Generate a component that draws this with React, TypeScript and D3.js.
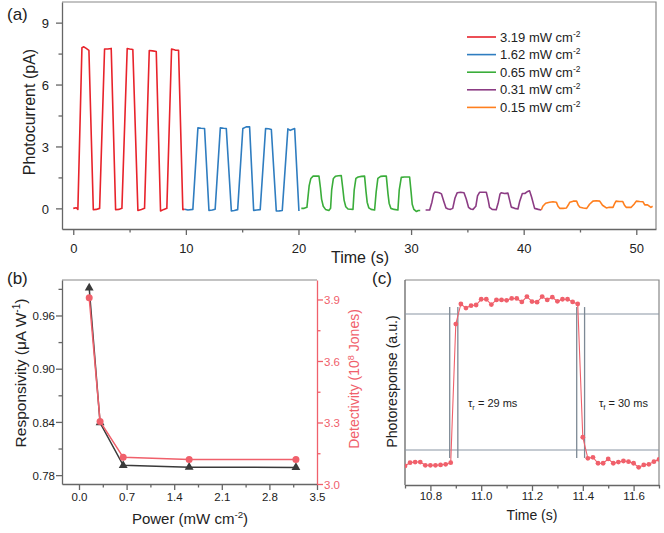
import React, { useEffect, useRef } from 'react';
import * as d3 from 'd3';

const FONT = '"Liberation Sans", Arial, Helvetica, sans-serif';

// (a) photocurrent (pA) vs time (s), one list per light intensity
const curve319: [number, number][] = [
  [0, 0], [0.27, 0.03], [0.41, -0.05], [0.77, 7.78], [0.94, 7.83], [1.15, 7.75], [1.39, 7.66],
  [1.78, -0.07], [2.04, -0.05], [2.34, 0.0], [2.78, 7.72], [3.07, 7.72], [3.37, 7.75],
  [3.76, -0.07], [4.04, -0.05], [4.32, 0.0], [4.79, 7.75], [5.0, 7.72], [5.29, 7.7],
  [5.74, -0.1], [6.05, -0.05], [6.33, 0.0], [6.75, 7.65], [7.05, 7.63], [7.37, 7.6],
  [7.75, -0.13], [8.05, -0.05], [8.31, 0.0], [8.73, 7.72], [9.05, 7.67], [9.35, 7.66],
  [9.73, -0.06], [9.9, -0.04],
];
const curve162: [number, number][] = [
  [9.9, -0.04], [10.18, -0.08], [10.62, -0.05], [11.07, 3.9], [11.35, 3.88], [11.66, 3.87],
  [12.05, -0.1], [12.35, -0.08], [12.6, -0.04], [13.06, 3.9], [13.35, 3.88], [13.59, 3.87],
  [14.04, -0.13], [14.3, -0.1], [14.6, -0.06], [15.06, 3.87], [15.36, 3.95], [15.66, 3.95],
  [16.02, -0.1], [16.3, -0.08], [16.6, -0.06], [17.08, 3.87], [17.35, 3.86], [17.59, 3.82],
  [18.03, -0.13], [18.3, -0.12], [18.56, -0.1], [19.06, 3.85], [19.27, 3.78], [19.66, 3.87],
  [20.04, -0.13],
];
const curve065: [number, number][] = [
  [20.25, 0.0], [20.5, 0.0], [20.75, 0.05], [20.95, 1.1], [21.1, 1.45], [21.3, 1.56], [21.55, 1.56],
  [21.82, 1.56], [21.95, 1.0], [22.05, 0.45], [22.2, 0.1], [22.4, -0.05], [22.7, -0.1], [22.85, 0.0],
  [22.95, 0.9], [23.1, 1.45], [23.3, 1.56], [23.55, 1.58], [23.8, 1.59], [23.95, 0.9], [24.05, 0.4],
  [24.2, 0.08], [24.4, -0.03], [24.84, -0.05], [24.95, 0.9], [25.1, 1.45], [25.3, 1.52], [25.6, 1.55],
  [25.87, 1.56], [26.0, 0.8], [26.1, 0.3], [26.25, 0.02], [26.45, -0.05], [26.76, -0.08], [26.9, 0.8],
  [27.05, 1.45], [27.3, 1.55], [27.55, 1.56], [27.8, 1.56], [27.95, 0.7], [28.05, 0.25], [28.2, 0.0],
  [28.5, -0.05], [28.83, -0.08], [28.95, 0.9], [29.13, 1.5], [29.4, 1.52], [29.6, 1.52], [29.87, 1.52],
  [30.0, 0.8], [30.1, 0.2], [30.25, -0.05], [30.46, -0.15], [30.65, -0.1], [30.81, -0.1],
];
const curve031: [number, number][] = [
  [31.29, -0.08], [31.65, -0.08], [31.85, 0.3], [32.0, 0.7], [32.1, 0.79], [32.3, 0.78], [32.5, 0.76],
  [32.7, 0.7], [32.9, 0.35], [33.1, 0.02], [33.3, -0.03], [33.5, -0.05], [33.7, 0.0], [33.9, 0.5],
  [34.1, 0.76], [34.4, 0.78], [34.7, 0.76], [34.9, 0.45], [35.1, 0.05], [35.3, -0.03], [35.5, -0.05],
  [35.75, 0.1], [35.9, 0.6], [36.08, 0.78], [36.4, 0.78], [36.68, 0.78], [36.85, 0.4], [36.97, 0.05],
  [37.2, -0.05], [37.56, -0.07], [37.75, 0.3], [37.9, 0.7], [38.0, 0.76], [38.3, 0.72], [38.6, 0.74],
  [38.75, 0.4], [38.9, 0.06], [39.2, 0.0], [39.49, -0.03], [39.65, 0.35], [39.88, 0.72], [40.1, 0.72],
  [40.3, 0.8], [40.52, 0.85], [40.7, 0.55], [40.97, 0.0], [41.3, -0.05], [41.56, -0.08],
];
const curve015: [number, number][] = [
  [41.56, -0.08], [41.7, 0.1], [41.95, 0.25], [42.3, 0.3], [42.6, 0.32], [42.9, 0.3], [43.05, 0.1],
  [43.2, 0.0], [43.5, 0.0], [43.8, 0.02], [44.0, 0.2], [44.1, 0.3], [44.4, 0.35], [44.7, 0.35],
  [44.85, 0.15], [45.0, 0.05], [45.3, 0.02], [45.6, 0.0], [45.85, 0.2], [46.15, 0.35], [46.45, 0.37],
  [46.75, 0.35], [47.0, 0.15], [47.34, 0.02], [47.6, 0.05], [47.93, 0.05], [48.05, 0.2], [48.2, 0.35],
  [48.5, 0.33], [48.8, 0.33], [48.95, 0.15], [49.1, 0.05], [49.3, 0.05], [49.55, 0.05], [49.8, 0.2],
  [50.0, 0.35], [50.3, 0.33], [50.6, 0.32], [50.75, 0.17], [51.0, 0.17], [51.3, 0.05], [51.45, 0.1],
];
const intensities = ['3.19', '1.62', '0.65', '0.31', '0.15'];
const curveColors = ['#e8232b', '#2f7dc0', '#3aad3a', '#8c3c84', '#ff7f1e'];

// (b) responsivity / detectivity vs power
const powers = [0.15, 0.31, 0.65, 1.62, 3.19];
const responsivity = [0.991, 0.839, 0.791, 0.789, 0.7887];
const detectivity = [3.908, 3.305, 3.13, 3.12, 3.12];

// (c) single on/off cycle, normalised
const responseC: [number, number][] = [
  [10.70, 0.093], [10.72, 0.109], [10.74, 0.112], [10.76, 0.112], [10.78, 0.096], [10.80, 0.096],
  [10.82, 0.096], [10.84, 0.098], [10.86, 0.101], [10.88, 0.109], [10.90, 0.785], [10.92, 0.883],
  [10.94, 0.863], [10.96, 0.875], [10.98, 0.878], [11.00, 0.906], [11.02, 0.906], [11.04, 0.880],
  [11.06, 0.903], [11.08, 0.903], [11.10, 0.901], [11.12, 0.910], [11.14, 0.910], [11.16, 0.893],
  [11.18, 0.919], [11.20, 0.895], [11.22, 0.892], [11.24, 0.919], [11.26, 0.903], [11.28, 0.916],
  [11.30, 0.896], [11.32, 0.906], [11.34, 0.906], [11.36, 0.893], [11.38, 0.883], [11.40, 0.233],
  [11.42, 0.130], [11.44, 0.135], [11.46, 0.106], [11.48, 0.106], [11.50, 0.127], [11.52, 0.106],
  [11.54, 0.112], [11.56, 0.117], [11.58, 0.114], [11.60, 0.106], [11.62, 0.086], [11.64, 0.098],
  [11.66, 0.101], [11.68, 0.114], [11.70, 0.125],
];
const edgeTimes = [10.876, 10.908, 11.376, 11.407];
const levelLines = [0.171, 0.834];

const ticksAx = [0, 10, 20, 30, 40, 50];
const minorAx = [5, 15, 25, 35, 45];
const ticksAy = [0, 3, 6, 9];
const minorAy = [1.5, 4.5, 7.5];
const ticksBx = [0, 0.7, 1.4, 2.1, 2.8, 3.5];
const minorBx = [0.35, 1.05, 1.75, 2.45, 3.15];
const ticksBy = [0.78, 0.84, 0.9, 0.96];
const minorBy = [0.81, 0.87, 0.93, 0.99];
const ticksBy2 = [3.0, 3.3, 3.6, 3.9];
const minorBy2 = [3.15, 3.45, 3.75];
const ticksCx = [10.8, 11.0, 11.2, 11.4, 11.6];
const minorCx = [10.7, 10.9, 11.1, 11.3, 11.5, 11.7];

const AXIS = '#666';
const PINK = '#f0606b';

function axis(svg: any, kind: string, scale: any, major: number[], minor: number[], at: number,
  fmt: (d: any) => string, color: string, textColor: string, off: number, fs: number) {
  const make = kind === 'bottom' ? d3.axisBottom : kind === 'left' ? d3.axisLeft : d3.axisRight;
  const tr = kind === 'bottom' ? `translate(0,${at})` : `translate(${at},0)`;
  const g = svg.append('g').attr('transform', tr)
    .call(make(scale).tickValues(major).tickFormat(fmt).tickSize(6).tickSizeOuter(0));
  g.select('.domain').attr('stroke', color).attr('stroke-width', 1.3);
  g.selectAll('.tick line').attr('stroke', color).attr('stroke-width', 1.3);
  const t = g.selectAll('.tick text').attr('fill', textColor).attr('font-size', fs).attr('font-family', FONT);
  if (kind === 'bottom') t.attr('y', off).attr('dy', 0);
  else t.attr('x', kind === 'left' ? -off : off).attr('dy', '0.36em');
  const m = svg.append('g').attr('transform', tr)
    .call(make(scale).tickValues(minor).tickFormat(() => '').tickSize(3.5));
  m.select('.domain').remove();
  m.selectAll('.tick line').attr('stroke', color).attr('stroke-width', 1.3);
}

function label(svg: any, x: number, y: number, parts: [string, boolean][], fs: number, rotate = false, color = '#222', anchor = 'middle') {
  const t = svg.append('text')
    .attr('transform', rotate ? `translate(${x},${y}) rotate(-90)` : `translate(${x},${y})`)
    .attr('text-anchor', anchor).attr('font-size', fs).attr('fill', color).attr('font-family', FONT);
  let sup = false;
  parts.forEach(([s, isSup]) => {
    const sp = t.append('tspan').text(s);
    if (isSup && !sup) sp.attr('dy', -fs * 0.38).attr('font-size', fs * 0.65);
    else if (!isSup && sup) sp.attr('dy', fs * 0.38);
    else if (isSup) sp.attr('font-size', fs * 0.65);
    sup = isSup;
  });
  return t;
}

const App: React.FC = () => {
  const svgRef = useRef<SVGSVGElement>(null);

  useEffect(() => {
    if (!svgRef.current) return;
    const svg = d3.select(svgRef.current);
    svg.selectAll('*').remove();
    svg.attr('width', 664).attr('height', 533);
    svg.append('rect').attr('width', 664).attr('height', 533).attr('fill', '#fff');

    const fmt1 = (d: any) => d3.format('.1f')(d);

    // ---------- (a)
    const xa = d3.scaleLinear().domain([-1, 51.75]).range([62, 656]);
    const ya = d3.scaleLinear().domain([-1, 10]).range([229, 2]);
    svg.append('path').attr('d', 'M62,2H656V229').attr('fill', 'none').attr('stroke', '#888').attr('stroke-width', 1.2);
    axis(svg, 'bottom', xa, ticksAx, minorAx, 229, (d) => String(d), AXIS, '#222', 24, 13);
    axis(svg, 'left', ya, ticksAy, minorAy, 62, (d) => String(d), AXIS, '#222', 13, 13);

    const lineA = d3.line<[number, number]>().x((d) => xa(d[0])).y((d) => ya(d[1]));
    [curve319, curve162, curve065, curve031, curve015].forEach((c, i) => {
      svg.append('path').attr('d', lineA(c)).attr('fill', 'none')
        .attr('stroke', curveColors[i]).attr('stroke-width', 1.6).attr('stroke-linejoin', 'round');
    });

    intensities.forEach((s, i) => {
      const y = 37 + i * 17.6;
      svg.append('line').attr('x1', 467).attr('x2', 496).attr('y1', y).attr('y2', y)
        .attr('stroke', curveColors[i]).attr('stroke-width', 1.6);
      label(svg, 500, y + 4.5, [[`${s} mW cm`, false], ['-2', true]], 13, false, '#222', 'start');
    });

    label(svg, 34.5, 112, [['Photocurrent (pA)', false]], 16, true);
    label(svg, 360, 263, [['Time (s)', false]], 16);
    label(svg, 7, 20, [['(a)', false]], 17, false, '#222', 'start');

    // ---------- (b)
    const xb = d3.scaleLinear().domain([-0.25, 3.5]).range([62, 317]);
    const yb = d3.scaleLinear().domain([0.77, 1.0]).range([484, 280]);
    const yb2 = d3.scaleLinear().domain([3.0, 3.995]).range([484, 280]);
    svg.append('path').attr('d', 'M62,280H317').attr('fill', 'none').attr('stroke', '#888').attr('stroke-width', 1.2);
    axis(svg, 'bottom', xb, ticksBx, minorBx, 484, fmt1, AXIS, '#222', 17, 11.5);
    axis(svg, 'left', yb, ticksBy, minorBy, 62, (d) => d3.format('.2f')(d), AXIS, '#222', 7, 11.5);
    axis(svg, 'right', yb2, ticksBy2, minorBy2, 317, fmt1, PINK, PINK, 7, 11.5);

    const respPts = powers.map((p, i) => [p, responsivity[i]] as [number, number]);
    const detPts = powers.map((p, i) => [p, detectivity[i]] as [number, number]);
    svg.append('path')
      .attr('d', d3.line<[number, number]>().x((d) => xb(d[0])).y((d) => yb(d[1]))(respPts))
      .attr('fill', 'none').attr('stroke', '#3a3a3a').attr('stroke-width', 1.5);
    svg.selectAll('.tri').data(respPts).join('path')
      .attr('transform', (d) => `translate(${xb(d[0])},${yb(d[1])})`)
      .attr('d', d3.symbol(d3.symbolTriangle, 34)()).attr('fill', '#3a3a3a');
    svg.append('path')
      .attr('d', d3.line<[number, number]>().x((d) => xb(d[0])).y((d) => yb2(d[1]))(detPts))
      .attr('fill', 'none').attr('stroke', PINK).attr('stroke-width', 1.5);
    detPts.forEach((d) => {
      svg.append('circle').attr('cx', xb(d[0])).attr('cy', yb2(d[1])).attr('r', 3.5).attr('fill', PINK);
    });

    label(svg, 25.5, 373, [['Responsivity (μA W', false], ['-1', true], [')', false]], 15.5, true);
    label(svg, 359, 379, [['Detectivity (10', false], ['8', true], [' Jones)', false]], 14, true, PINK);
    label(svg, 190, 524, [['Power (mW cm', false], ['-2', true], [')', false]], 15);
    label(svg, 7, 284, [['(b)', false]], 17, false, '#222', 'start');

    // ---------- (c)
    const xc = d3.scaleLinear().domain([10.7, 11.7]).range([405, 659]);
    const yc = d3.scaleLinear().domain([0, 1]).range([485, 280]);
    svg.append('path').attr('d', 'M405,280H659V485').attr('fill', 'none').attr('stroke', '#888').attr('stroke-width', 1.2);
    svg.append('line').attr('x1', 405).attr('x2', 405).attr('y1', 280).attr('y2', 485)
      .attr('stroke', AXIS).attr('stroke-width', 1.3);
    axis(svg, 'bottom', xc, ticksCx, minorCx, 485, fmt1, AXIS, '#222', 15, 11.5);

    levelLines.forEach((v) => {
      svg.append('line').attr('x1', 405).attr('x2', 659).attr('y1', yc(v)).attr('y2', yc(v))
        .attr('stroke', '#8a96a3').attr('stroke-width', 1.1);
    });
    edgeTimes.forEach((t) => {
      svg.append('line').attr('x1', xc(t)).attr('x2', xc(t)).attr('y1', yc(0.868)).attr('y2', yc(0.132))
        .attr('stroke', '#7d8995').attr('stroke-width', 1.3);
    });

    svg.append('path')
      .attr('d', d3.line<[number, number]>().x((d) => xc(d[0])).y((d) => yc(d[1]))(responseC))
      .attr('fill', 'none').attr('stroke', PINK).attr('stroke-width', 1.1);
    const clip = svg.append('clipPath').attr('id', 'clipc');
    clip.append('rect').attr('x', 405).attr('y', 280).attr('width', 254).attr('height', 205);
    svg.append('g').attr('clip-path', 'url(#clipc)').selectAll('circle').data(responseC).join('circle')
      .attr('cx', (d) => xc(d[0])).attr('cy', (d) => yc(d[1])).attr('r', 2.4).attr('fill', PINK);

    const tr = svg.append('text').attr('x', 468).attr('y', 407).attr('font-size', 11).attr('fill', '#222').attr('font-family', FONT);
    tr.append('tspan').text('τ');
    tr.append('tspan').text('r').attr('font-size', 7.5).attr('dy', 2.5);
    tr.append('tspan').text(' = 29 ms').attr('dy', -2.5);
    const tf = svg.append('text').attr('x', 599).attr('y', 407).attr('font-size', 11).attr('fill', '#222').attr('font-family', FONT);
    tf.append('tspan').text('τ');
    tf.append('tspan').text('f').attr('font-size', 7.5).attr('dy', 2.5);
    tf.append('tspan').text(' = 30 ms').attr('dy', -2.5);

    label(svg, 396.5, 381.5, [['Photoresponse (a.u.)', false]], 14.2, true);
    label(svg, 532, 520, [['Time (s)', false]], 14);
    label(svg, 372, 284, [['(c)', false]], 17, false, '#222', 'start');
  }, []);

  return <svg ref={svgRef} style={{ position: 'absolute', left: 0, top: 0 }} />;
};

export default App;
